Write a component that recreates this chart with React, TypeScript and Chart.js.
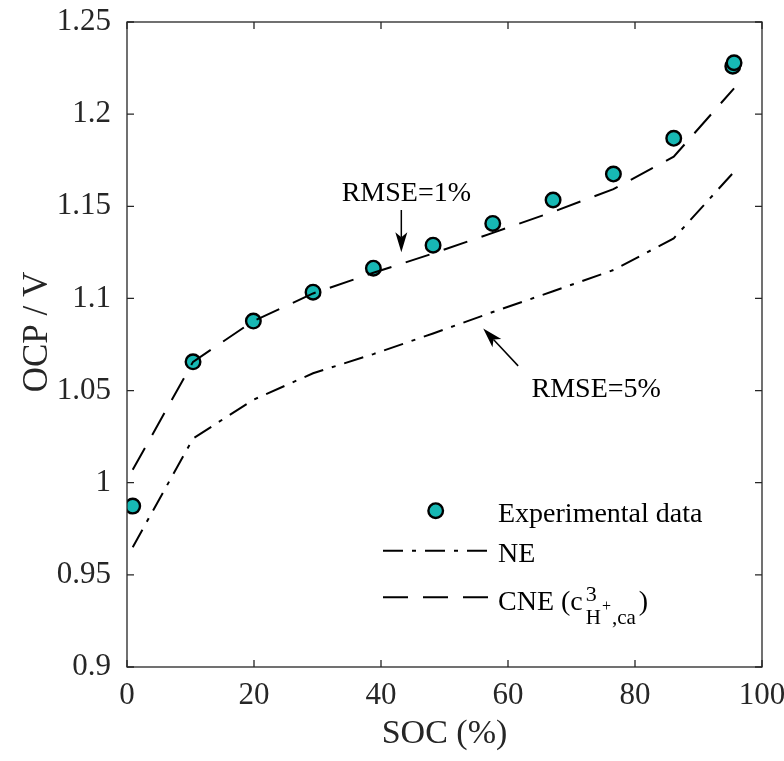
import React, { useEffect, useRef } from "react";
import { Chart, registerables } from "chart.js";

Chart.register(...registerables);

// ---------------- data ----------------
const socModel = [0.9, 10.4, 19.9, 29.3, 38.8, 48.2, 57.6, 67.1, 76.6, 86.1, 95.6];
const neOcp = [0.965, 1.024, 1.045, 1.0594, 1.0698, 1.081, 1.0926, 1.1039, 1.1154, 1.1326, 1.1687];
const cneOcp = [1.007, 1.0656, 1.0877, 1.1027, 1.1139, 1.1244, 1.1356, 1.147, 1.1593, 1.1769, 1.214];
const socExp = [0.9, 10.4, 19.9, 29.3, 38.8, 48.2, 57.6, 67.1, 76.6, 86.1, 95.4, 95.6];
const ocpExp = [0.9873, 1.0656, 1.0877, 1.1034, 1.1164, 1.1289, 1.1407, 1.1534, 1.1675, 1.1869, 1.226, 1.2279];
const xTicks = [0, 20, 40, 60, 80, 100];
const yTicks = [0.9, 0.95, 1, 1.05, 1.1, 1.15, 1.2, 1.25];
const xTitle = "SOC (%)";
const yTitle = "OCP / V";
const legendLabels = ["Experimental data", "NE", "CNE ("];
const annot1 = { text: "RMSE=1%", x: 33.8, y: 1.1526, ax0: 43.2, ay0: 1.148, ax1: 43.2, ay1: 1.1251 };
const annot2 = { text: "RMSE=5%", x: 63.7, y: 1.0466, ax0: 61.6, ay0: 1.0634, ax1: 56.1, ay1: 1.0837 };

const FONT = "'Liberation Serif', 'Times New Roman', serif";
const AXIS = "#262626";
const FILL = "#17b8b4";
const DASH = [25, 15];
const DASHDOT = [20, 9, 4, 9];

function drawArrow(ctx: CanvasRenderingContext2D, x0: number, y0: number, x1: number, y1: number) {
  const ang = Math.atan2(y1 - y0, x1 - x0);
  const L = 20, W = 6, N = 5;
  const ux = Math.cos(ang), uy = Math.sin(ang);
  const px = -uy, py = ux;
  ctx.save();
  ctx.strokeStyle = "#000";
  ctx.fillStyle = "#000";
  ctx.lineWidth = 1.5;
  ctx.setLineDash([]);
  ctx.beginPath();
  ctx.moveTo(x0, y0);
  ctx.lineTo(x1 - ux * (L - N), y1 - uy * (L - N));
  ctx.stroke();
  ctx.beginPath();
  ctx.moveTo(x1, y1);
  ctx.lineTo(x1 - ux * L + px * W, y1 - uy * L + py * W);
  ctx.lineTo(x1 - ux * (L - N), y1 - uy * (L - N));
  ctx.lineTo(x1 - ux * L - px * W, y1 - uy * L - py * W);
  ctx.closePath();
  ctx.fill();
  ctx.restore();
}

const decorPlugin = {
  id: "decor",
  afterDatasetsDraw(chart: any) {
    const ctx: CanvasRenderingContext2D = chart.ctx;
    const { left, right, top, bottom } = chart.chartArea;
    const xs = chart.scales.x;
    const ys = chart.scales.y;
    ctx.save();
    // frame
    ctx.strokeStyle = AXIS;
    ctx.lineWidth = 1.3;
    ctx.setLineDash([]);
    ctx.strokeRect(left, top, right - left, bottom - top);
    // inward ticks
    const tl = 7;
    ctx.beginPath();
    xTicks.forEach((v) => {
      const px = xs.getPixelForValue(v);
      ctx.moveTo(px, bottom);
      ctx.lineTo(px, bottom - tl);
      ctx.moveTo(px, top);
      ctx.lineTo(px, top + tl);
    });
    yTicks.forEach((v) => {
      const py = ys.getPixelForValue(v);
      ctx.moveTo(left, py);
      ctx.lineTo(left + tl, py);
      ctx.moveTo(right, py);
      ctx.lineTo(right - tl, py);
    });
    ctx.stroke();

    // axis titles
    ctx.fillStyle = "#262626";
    ctx.font = `34px ${FONT}`;
    ctx.textAlign = "center";
    ctx.textBaseline = "alphabetic";
    ctx.fillText(xTitle, (left + right) / 2, 743);
    ctx.save();
    ctx.font = `35px ${FONT}`;
    ctx.translate(47, 332);
    ctx.rotate(-Math.PI / 2);
    ctx.fillText(yTitle, 0, 0);
    ctx.restore();

    // annotations
    ctx.fillStyle = "#000";
    ctx.font = `28px ${FONT}`;
    ctx.textAlign = "left";
    [annot1, annot2].forEach((a) => {
      ctx.fillText(a.text, xs.getPixelForValue(a.x), ys.getPixelForValue(a.y));
      drawArrow(
        ctx,
        xs.getPixelForValue(a.ax0),
        ys.getPixelForValue(a.ay0),
        xs.getPixelForValue(a.ax1),
        ys.getPixelForValue(a.ay1)
      );
    });

    // legend
    const lx0 = 383, lx1 = 488, tx = 498;
    ctx.beginPath();
    ctx.arc(435.7, 510.7, 7.3, 0, Math.PI * 2);
    ctx.fillStyle = FILL;
    ctx.fill();
    ctx.lineWidth = 2.4;
    ctx.strokeStyle = "#000";
    ctx.stroke();
    ctx.lineWidth = 2;
    ctx.setLineDash(DASHDOT);
    ctx.beginPath();
    ctx.moveTo(lx0, 550.7);
    ctx.lineTo(lx1, 550.7);
    ctx.stroke();
    ctx.setLineDash(DASH);
    ctx.beginPath();
    ctx.moveTo(lx0, 597.3);
    ctx.lineTo(lx1, 597.3);
    ctx.stroke();
    ctx.setLineDash([]);
    ctx.fillStyle = "#000";
    ctx.font = `28px ${FONT}`;
    ctx.fillText(legendLabels[0], tx, 521.7);
    ctx.fillText(legendLabels[1], tx, 561.7);
    ctx.fillText(legendLabels[2] + "c", tx, 610);
    const w = ctx.measureText(legendLabels[2] + "c").width;
    const sx = tx + w + 3;
    ctx.font = `22px ${FONT}`;
    ctx.fillText("3", sx, 601);
    ctx.font = `21px ${FONT}`;
    ctx.fillText("H", sx, 624);
    const hw = ctx.measureText("H").width;
    ctx.font = `16px ${FONT}`;
    ctx.fillText("+", sx + hw + 1, 611);
    ctx.font = `21px ${FONT}`;
    ctx.fillText(",ca", sx + hw + 11, 624);
    const cw = ctx.measureText(",ca").width;
    ctx.font = `28px ${FONT}`;
    ctx.fillText(")", sx + hw + 11 + cw + 3, 610);
    ctx.restore();
  },
};

export default function App() {
  const ref = useRef<HTMLCanvasElement | null>(null);
  useEffect(() => {
    document.body.style.margin = "0";
    const canvas = ref.current!;
    const noPad = (s: any) => {
      s.paddingTop = 0;
      s.paddingBottom = 0;
      s.paddingLeft = 0;
      s.paddingRight = 0;
    };
    const chart = new Chart(canvas, {
      type: "scatter",
      data: {
        datasets: [
          {
            label: "NE",
            data: socModel.map((x, i) => ({ x, y: neOcp[i] })),
            showLine: true,
            borderColor: "#000",
            borderWidth: 2,
            borderDash: DASHDOT,
            pointRadius: 0,
            fill: false,
            order: 1,
          },
          {
            label: "CNE",
            data: socModel.map((x, i) => ({ x, y: cneOcp[i] })),
            showLine: true,
            borderColor: "#000",
            borderWidth: 2,
            borderDash: DASH,
            pointRadius: 0,
            fill: false,
            order: 2,
          },
          {
            label: "Experimental data",
            data: socExp.map((x, i) => ({ x, y: ocpExp[i] })),
            showLine: false,
            backgroundColor: FILL,
            borderColor: "#000",
            borderWidth: 2.4,
            pointRadius: 7.3,
            order: 3,
          },
        ],
      },
      options: {
        responsive: false,
        animation: false,
        devicePixelRatio: 1,
        layout: { padding: { top: 22, right: 22, left: 0, bottom: 0 } },
        plugins: { legend: { display: false }, tooltip: { enabled: false } },
        scales: {
          x: {
            type: "linear",
            min: 0,
            max: 100,
            grid: { display: false, drawTicks: false },
            border: { display: false },
            afterBuildTicks: (s: any) => {
              s.ticks = xTicks.map((v) => ({ value: v }));
            },
            afterFit: (s: any) => {
              s.height = 94;
              noPad(s);
            },
            ticks: {
              color: "#262626",
              font: { family: FONT, size: 31 },
              padding: 10,
              maxRotation: 0,
              callback: (v: any) => String(v),
            },
          },
          y: {
            type: "linear",
            min: 0.9,
            max: 1.25,
            grid: { display: false, drawTicks: false },
            border: { display: false },
            afterBuildTicks: (s: any) => {
              s.ticks = yTicks.map((v) => ({ value: v }));
            },
            afterFit: (s: any) => {
              s.width = 127;
              noPad(s);
            },
            ticks: {
              color: "#262626",
              font: { family: FONT, size: 31 },
              padding: 16,
              callback: (v: any) => String(Number(Number(v).toFixed(2))),
            },
          },
        },
      },
      plugins: [decorPlugin],
    });
    return () => chart.destroy();
  }, []);
  return (
    <div style={{ position: "fixed", left: 0, top: 0, width: 784, height: 761, background: "#fff" }}>
      <canvas ref={ref} width={784} height={761} />
    </div>
  );
}
